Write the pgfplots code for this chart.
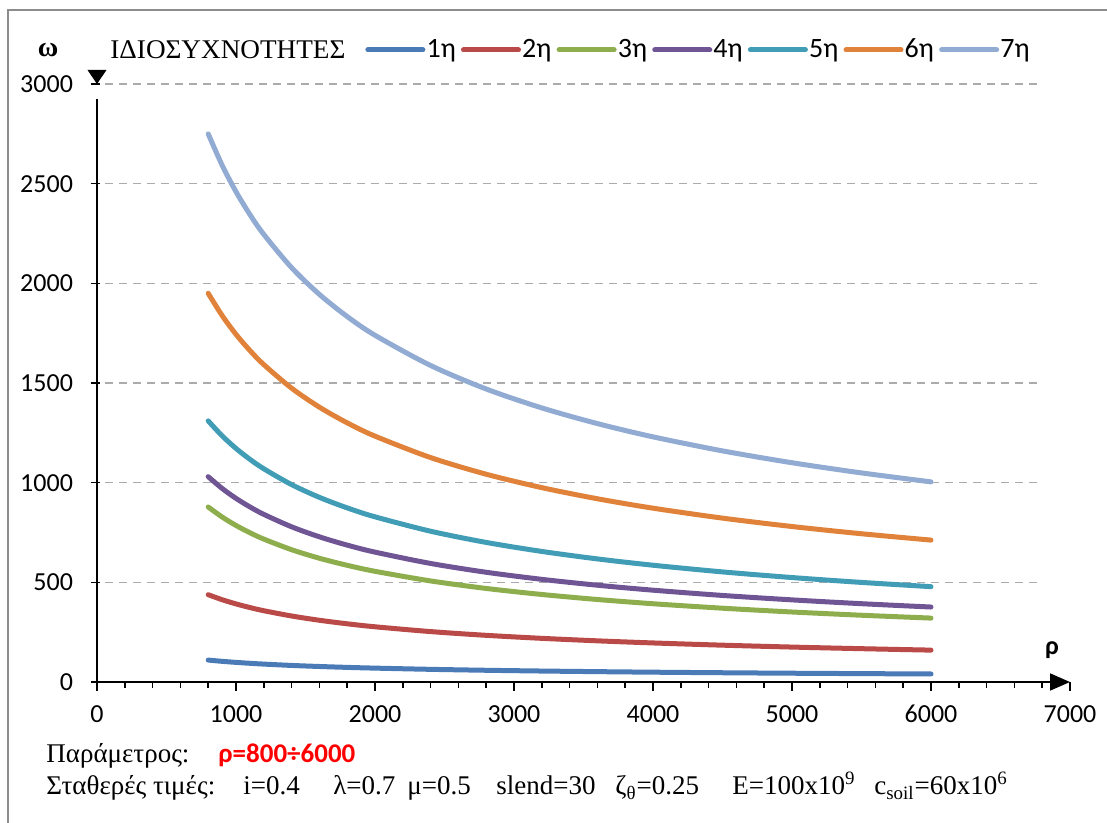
\documentclass[border=0pt]{standalone}
\usepackage{fontspec}
\setmainfont{Liberation Serif}
\newfontfamily\calfont{Carlito}
\usepackage{graphicx}
\usepackage{pgfplots}
\pgfplotsset{compat=1.18}
\usetikzlibrary{arrows.meta}
\definecolor{c1}{HTML}{4A7BB7}
\definecolor{c2}{HTML}{B94A47}
\definecolor{c3}{HTML}{8EAE4E}
\definecolor{c4}{HTML}{705595}
\definecolor{c5}{HTML}{419CB6}
\definecolor{c6}{HTML}{E0823A}
\definecolor{c7}{HTML}{92ABD3}
\begin{document}
\begin{tikzpicture}
\begin{axis}[
  name=ax,
  scale only axis, width=486.5pt, height=299pt,
  xmin=0, xmax=7000, ymin=0, ymax=3000,
  clip=false,
  axis x line*=bottom, axis y line*=left,
  x axis line style={line width=0.9pt, -{Triangle[length=10pt,width=8.5pt]}},
  y axis line style={draw=none},
  xtick={0,1000,...,7000}, minor x tick num=4,
  ytick={0,500,...,3000},
  tick align=outside,
  major tick length=4.5pt, minor tick length=3pt,
  tick style={black, line width=0.8pt},
  y tick style={xshift=1.3pt},
  /pgf/number format/assume math mode=true,
  /pgf/number format/1000 sep={},
  xticklabel style={font=\calfont\fontsize{13}{15}\selectfont, anchor=base, yshift=-15.8pt},
  yticklabel style={font=\calfont\fontsize{13}{15}\selectfont, xshift=-4pt},
  legend columns=7,
  legend style={at={(axis description cs:0.2754,1.0569)}, anchor=west, draw=none, fill=none,
    inner sep=0pt, font=\calfont\fontsize{14}{16}\selectfont,
    /tikz/every even column/.append style={column sep=2pt},
    nodes={inner xsep=0.6pt}},
  legend image code/.code={\draw[#1, line width=2.5pt, line cap=round] (0pt,0pt) -- (27.5pt,0pt);},
  every axis plot/.append style={line width=2.5pt, line cap=round, line join=round, no markers, smooth},
]
\pgfplotsinvokeforeach{500,1000,...,3000}{\draw[dash pattern=on 4pt off 3pt, color=black!33, line width=0.6pt] (axis cs:60,#1) -- (axis cs:6780,#1);}
\addplot[c1] coordinates {(800,110) (900,103.7) (1000,98.4) (1100,93.8) (1200,89.8) (1400,83.1) (1600,77.8) (1800,73.3) (2000,69.6) (2400,63.5) (2800,58.8) (3200,55.0) (3600,51.9) (4000,49.2) (4500,46.4) (5000,44.0) (5500,42.0) (6000,40.2)};
\addlegendentry{1η}
\addplot[c2] coordinates {(800,438) (900,412.9) (1000,391.8) (1100,373.5) (1200,357.6) (1400,331.1) (1600,309.7) (1800,292.0) (2000,277.0) (2400,252.9) (2800,234.1) (3200,219.0) (3600,206.5) (4000,195.9) (4500,184.7) (5000,175.2) (5500,167.1) (6000,159.9)};
\addlegendentry{2η}
\addplot[c3] coordinates {(800,878) (900,827.8) (1000,785.3) (1100,748.8) (1200,716.9) (1400,663.7) (1600,620.8) (1800,585.4) (2000,555.3) (2400,507.0) (2800,469.3) (3200,439.0) (3600,413.9) (4000,392.6) (4500,370.2) (5000,351.2) (5500,334.9) (6000,320.6)};
\addlegendentry{3η}
\addplot[c4] coordinates {(800,1030) (900,971.1) (1000,921.2) (1100,878.4) (1200,841.0) (1400,778.6) (1600,728.3) (1800,686.7) (2000,651.5) (2400,594.7) (2800,550.5) (3200,515.0) (3600,485.5) (4000,460.6) (4500,434.2) (5000,412.0) (5500,392.8) (6000,376.1)};
\addlegendentry{4η}
\addplot[c5] coordinates {(800,1310) (900,1235.1) (1000,1171.7) (1100,1117.2) (1200,1069.6) (1400,990.2) (1600,926.3) (1800,873.4) (2000,828.6) (2400,756.4) (2800,700.2) (3200,655.0) (3600,617.5) (4000,585.8) (4500,552.3) (5000,524.0) (5500,499.6) (6000,478.3)};
\addlegendentry{5η}
\addplot[c6] coordinates {(800,1950) (900,1838.5) (1000,1744.1) (1100,1663.0) (1200,1592.2) (1400,1474.0) (1600,1378.8) (1800,1300.1) (2000,1233.4) (2400,1125.9) (2800,1042.3) (3200,975.0) (3600,919.2) (4000,872.0) (4500,822.1) (5000,780.0) (5500,743.7) (6000,711.9)};
\addlegendentry{6η}
\addplot[c7] coordinates {(800,2750) (900,2592.7) (1000,2459.6) (1100,2345.2) (1200,2245.4) (1400,2078.7) (1600,1944.5) (1800,1833.4) (2000,1739.4) (2400,1587.9) (2800,1469.9) (3200,1375.0) (3600,1296.4) (4000,1229.8) (4500,1159.4) (5000,1100.0) (5500,1048.9) (6000,1004.0)};
\addlegendentry{7η}
\draw[black, line width=0.9pt] (axis cs:0,0) -- (axis cs:0,2925);
\fill[black] (axis cs:0,3000) -- ++(-4.75pt,7pt) -- ++(9.5pt,0pt) -- cycle;
\end{axis}
% frame
\draw[black!45, line width=0.9pt] ([shift={(505pt,336pt)}]ax.south west) -- ([shift={(-44.5pt,336pt)}]ax.south west) -- ([shift={(-44.5pt,-70.5pt)}]ax.south west);
% titles
\node[font=\bfseries\fontsize{14}{16}\selectfont] at ([shift={(-24.5pt,316pt)}]ax.south west) {ω};
\node[anchor=base west, inner sep=0pt, font=\fontsize{13.5}{16}\selectfont] at ([shift={(6.5pt,311.5pt)}]ax.south west) {\resizebox{117.5pt}{\height}{ΙΔΙΟΣΥΧΝΟΤΗΤΕΣ}};
\node[font=\calfont\bfseries\fontsize{13}{15}\selectfont] at ([shift={(477.5pt,16pt)}]ax.south west) {ρ};
% footer
\begin{scope}[every node/.style={anchor=base west, inner sep=0pt, font=\fontsize{13.5}{16}\selectfont}]
\node at ([shift={(-25.5pt,-40.5pt)}]ax.south west) {Παράμετρος:};
\node[text=red, font=\calfont\bfseries\fontsize{13.5}{15}\selectfont] at ([shift={(60.5pt,-40.5pt)}]ax.south west) {ρ=800÷6000};
\node at ([shift={(-25.5pt,-56.5pt)}]ax.south west) {Σταθερές τιμές:};
\node at ([shift={(73pt,-56.5pt)}]ax.south west) {i=0.4};
\node at ([shift={(118pt,-56.5pt)}]ax.south west) {λ=0.7};
\node at ([shift={(155pt,-56.5pt)}]ax.south west) {μ=0.5};
\node at ([shift={(199.5pt,-56.5pt)}]ax.south west) {slend=30};
\node at ([shift={(259pt,-56.5pt)}]ax.south west) {ζ\textsubscript{θ}=0.25};
\node at ([shift={(317.5pt,-56.5pt)}]ax.south west) {E=100x10\textsuperscript{9}};
\node at ([shift={(388.5pt,-56.5pt)}]ax.south west) {c\textsubscript{soil}=60x10\textsuperscript{6}};
\end{scope}
\pgfresetboundingbox
\path ([shift={(-48.5pt,-70.5pt)}]ax.south west) rectangle ([shift={(505pt,341pt)}]ax.south west);
\end{tikzpicture}
\end{document}
